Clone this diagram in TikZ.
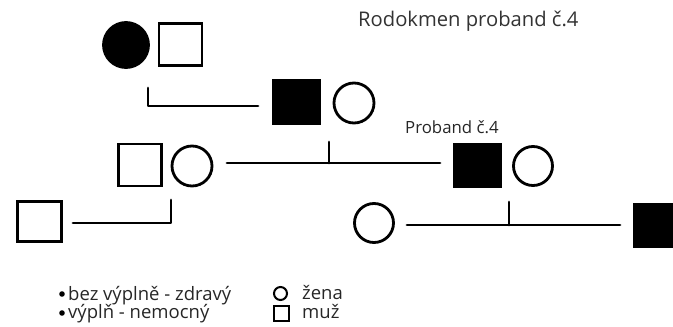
\documentclass[tikz,border=0pt]{standalone}
\usepackage{fontspec}
\setmainfont{Open Sans}
\begin{document}
\begin{tikzpicture}[x=1pt,y=-1pt,
  person/.style={draw=black,line width=2.8pt,inner sep=0pt,outer sep=0pt},
  female/.style={person,circle,minimum size=40pt},
  male/.style={person,rectangle,minimum width=43pt,minimum height=42pt},
  ill/.style={fill=black},
  link/.style={line width=2.8pt,line cap=round,line join=round},
  title/.style={anchor=base west,text=black!80,font=\fontsize{20.2}{23}\selectfont,inner sep=0pt},
  note/.style={anchor=base west,text=black!85,font=\fontsize{16.8}{19}\selectfont,inner sep=0pt},
  legend/.style={anchor=base west,text=black!85,font=\fontsize{18.5}{21}\selectfont,inner sep=0pt}]
\useasboundingbox (0,0) rectangle (673,327);
\clip (0,0) rectangle (673,327);

% generation I
\node[female,ill,minimum size=45pt] (g1f) at (126,45) {};
\node[male] (g1m) at (180.5,44.5) {};

% generation II
\node[male,ill,minimum width=47pt,minimum height=44pt] (g2m) at (296.5,102) {};
\node[female] (g2f) at (354,103) {};
\coordinate (d1top) at (148,88);
\coordinate (d1bend) at (148,106);
\coordinate (d1end) at (258,106);
\draw[link] (d1top) -- (d1bend) -- (d1end);

% generation III
\node[male] (g3m) at (140,165) {};
\node[female] (g3f) at (192,166) {};
\node[male,ill,minimum width=46pt,minimum height=43pt] (pm) at (477.5,165.5) {};
\node[female,minimum size=39pt] (pf) at (533,166) {};
\node[note] (plabel) at (405,133) {Proband č.4};
\coordinate (m1a) at (227,163);
\coordinate (m1b) at (440,163);
\coordinate (m1c) at (329,163);
\coordinate (m1t) at (329,142);
\draw[link] (m1a) -- (m1b);
\draw[link] (m1t) -- (m1c);

% generation IV
\node[male,minimum width=44pt,minimum height=40pt] (g4m) at (39.5,221.5) {};
\coordinate (d2a) at (73,223);
\coordinate (d2b) at (171,223);
\coordinate (d2t) at (171,200);
\draw[link] (d2a) -- (d2b) -- (d2t);
\node[female,minimum size=39pt] (g4f) at (374,223) {};
\coordinate (m2a) at (407,225);
\coordinate (m2b) at (620,225);
\coordinate (m2c) at (509,225);
\coordinate (m2t) at (509,202);
\draw[link] (m2a) -- (m2b);
\draw[link] (m2t) -- (m2c);
\node[male,ill,minimum width=43pt,minimum height=43pt] (g4r) at (656,225.5) {};

% title
\node[title] (ttl) at (358,26) {Rodokmen proband č.4};

% legend
\fill[black] (62,294) circle (2.8pt) coordinate (b1);
\fill[black] (62,313) circle (2.8pt) coordinate (b2);
\node[legend] (l1) at (68,300) {bez výplně - zdravý};
\node[legend] (l2) at (68,318.5) {výplň - nemocný};
\node[draw=black,line width=2pt,circle,minimum size=13pt,inner sep=0pt] (lf) at (280.5,293.5) {};
\node[draw=black,line width=2pt,rectangle,minimum size=15pt,inner sep=0pt] (lm) at (281.5,313) {};
\node[legend] (l3) at (302,299.5) {žena};
\node[legend] (l4) at (302,318.5) {muž};
\end{tikzpicture}
\end{document}
